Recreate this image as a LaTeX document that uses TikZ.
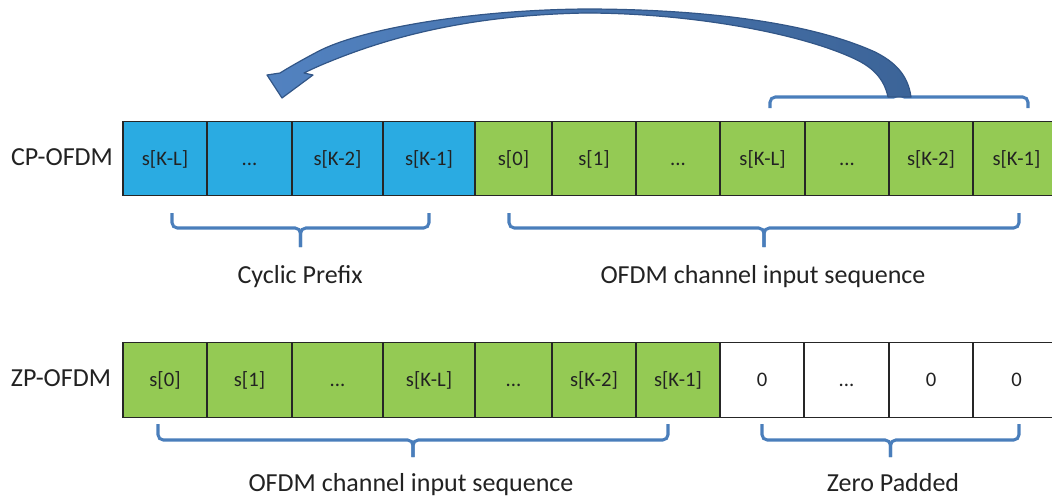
\documentclass[tikz,border=0pt]{standalone}
\usepackage{fontspec}
\setmainfont{Carlito}
\definecolor{cpblue}{RGB}{42,171,226}
\definecolor{datagreen}{RGB}{148,202,84}
\definecolor{zerowhite}{RGB}{255,255,255}
\definecolor{cellline}{RGB}{38,38,38}
\definecolor{txt}{RGB}{34,34,34}
\definecolor{brk}{RGB}{74,126,187}
\definecolor{arrowlight}{RGB}{82,130,192}
\definecolor{arrowdark}{RGB}{60,100,152}
\definecolor{arrowline}{RGB}{50,86,135}
\newcommand\cellfont{\fontsize{15.5}{18}\selectfont}
\newcommand\lblfont{\fontsize{19.5}{22}\selectfont}
% brace under/over a group of cells: x1, x2, leg end y, bar y, tip y
\newcommand\drawbrace[5]{%
  \draw[brace] (#1,#3) |- ({(#1+#2)/2},#4) -- ({(#1+#2)/2},#5);
  \draw[brace] (#2,#3) |- ({(#1+#2)/2},#4) -- ({(#1+#2)/2},#5);}
\begin{document}
\begin{tikzpicture}[x=0.75pt,y=-0.75pt,
  cell/.style={draw=cellline, line width=0.9pt, minimum height=56pt,
    inner sep=0pt, text height=12pt, text depth=2.25pt, font=\cellfont, text=txt},
  lbl/.style={font=\lblfont, text=txt, inner sep=0pt, anchor=base},
  brace/.style={draw=brk, line width=2.3pt, rounded corners=4pt}]
\useasboundingbox (0,0) rectangle (1052,497);

% CP-OFDM symbol
\foreach \a/\b/\t/\c [count=\i] in {
  123/207/{s[K-L]}/cpblue, 207/292/{...}/cpblue, 292/383/{s[K-2]}/cpblue,
  383/475/{s[K-1]}/cpblue, 475/552/{s[0]}/datagreen, 552/636/{s[1]}/datagreen,
  636/720/{...}/datagreen, 720/805/{s[K-L]}/datagreen, 805/889/{...}/datagreen,
  889/973/{s[K-2]}/datagreen, 973/1060/{s[K-1]}/datagreen}
  \node[cell, fill=\c, minimum width={(\b-\a)*0.75pt}] (top\i) at ({(\a+\b)/2},158.5) {\t};

% ZP-OFDM symbol
\foreach \a/\b/\t/\c [count=\i] in {
  123/207/{s[0]}/datagreen, 207/292/{s[1]}/datagreen, 292/383/{...}/datagreen,
  383/475/{s[K-L]}/datagreen, 475/552/{...}/datagreen, 552/636/{s[K-2]}/datagreen,
  636/720/{s[K-1]}/datagreen, 720/804/{0}/zerowhite, 804/889/{...}/zerowhite,
  889/973/{0}/zerowhite, 973/1060/{0}/zerowhite}
  \node[cell, fill=\c, minimum width={(\b-\a)*0.75pt}] (bot\i) at ({(\a+\b)/2},380) {\t};

% row titles and group labels
\node[lbl] (cplabel) at (62,165) {CP-OFDM};
\node[lbl] (zplabel) at (61,386) {ZP-OFDM};
\node[lbl] (cyclic) at (300,283) {Cyclic Prefix};
\node[lbl] (seqtop) at (763,283) {OFDM channel input sequence};
\node[lbl] (seqbot) at (411,491) {OFDM channel input sequence};
\node[lbl] (zeropad) at (893,491) {Zero Padded};

% braces
\drawbrace{172}{429}{213}{228}{247}
\drawbrace{509}{1019}{213}{228}{247}
\drawbrace{770}{1028}{108}{97}{86}
\drawbrace{158}{668}{424}{440}{457}
\drawbrace{762}{1019}{424}{440}{457}

% curved copy arrow from the tail of the symbol to the prefix
\shadedraw[left color=arrowlight, right color=arrowdark, draw=arrowline, line width=0.9pt, line join=round]
  (911,97) .. controls (908,75) and (895,62) .. (875,52)
  .. controls (800,18) and (680,9) .. (585,9)
  .. controls (470,10) and (360,29) .. (317,52)
  .. controls (300,61) and (288,68) .. (280,73)
  -- (267,75) -- (282,98) -- (313,75) -- (304,73)
  .. controls (312,69) and (321,65) .. (331,61)
  .. controls (400,33) and (480,15) .. (585,13)
  .. controls (690,13) and (800,33) .. (855,59)
  .. controls (872,67) and (884,78) .. (888,97) -- cycle;
\end{tikzpicture}
\end{document}
